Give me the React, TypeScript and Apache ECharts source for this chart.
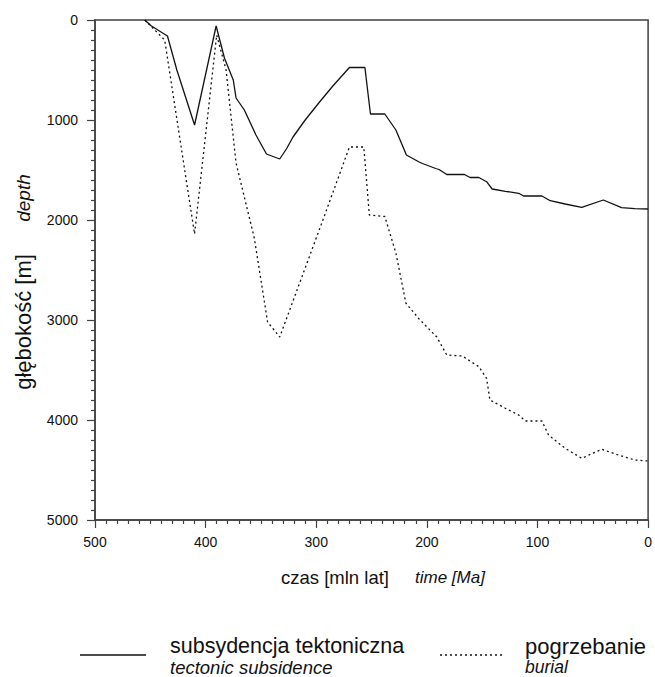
import React, { useEffect, useRef } from "react";
import * as echarts from "echarts";

const tectonicAge = [455, 449, 434.5, 426, 410, 390.5, 383, 375, 372.5, 365, 354.5, 345, 333, 327, 321, 310, 297, 285, 270, 256, 251, 238, 228, 218.5, 207, 204, 192, 189, 182, 166, 161, 153, 146, 141, 129, 117, 112.5, 96, 88.5, 75, 60, 40.5, 24, 12, 0];
const tectonicDepth = [0, 60, 160, 500, 1050, 60, 380, 600, 780, 900, 1150, 1340, 1390, 1290, 1170, 1000, 820, 660, 475, 475, 940, 940, 1100, 1350, 1420, 1435, 1485, 1495, 1545, 1545, 1575, 1575, 1617, 1690, 1713, 1733, 1760, 1760, 1807, 1840, 1873, 1800, 1877, 1887, 1890];

const burialAge = [455, 446, 437, 410, 390, 381.5, 372.5, 356, 344, 333, 315, 294, 270, 257, 252, 238, 228, 219, 207, 191, 182, 168, 153, 146, 143, 129, 117, 111, 96, 90, 75, 60, 42, 27, 12, 0];
const burialDepth = [0, 100, 200, 2140, 150, 500, 1430, 2180, 3020, 3170, 2630, 2000, 1270, 1270, 1950, 1965, 2330, 2830, 2990, 3170, 3350, 3360, 3467, 3583, 3800, 3883, 3950, 4010, 4010, 4150, 4283, 4383, 4293, 4350, 4400, 4410];

const xTicks = [0, 100, 200, 300, 400, 500];
const yTicks = [0, 1000, 2000, 3000, 4000, 5000];

const FONT = "'Liberation Sans', Arial, sans-serif";
const AX = "#404040";

export default function App() {
  const ref = useRef<HTMLDivElement>(null);
  useEffect(() => {
    if (!ref.current) return;
    const chart = echarts.init(ref.current, undefined, { renderer: "svg" });
    const tect = tectonicAge.map((a, i) => [a, tectonicDepth[i]]);
    const bur = burialAge.map((a, i) => [a, burialDepth[i]]);
    chart.setOption({
      animation: false,
      backgroundColor: "#ffffff",
      textStyle: { fontFamily: FONT },
      grid: {
        left: 95,
        right: 5,
        top: 20,
        bottom: 157,
        show: true,
        borderColor: AX,
        borderWidth: 1.5,
        backgroundColor: "transparent",
      },
      xAxis: {
        type: "value",
        inverse: true,
        min: xTicks[0],
        max: xTicks[xTicks.length - 1],
        interval: 100,
        axisLine: { show: true, onZero: false, lineStyle: { color: AX, width: 1.5 } },
        axisTick: { show: true, inside: false, length: 8, lineStyle: { color: AX, width: 1.2 } },
        minorTick: { show: true, splitNumber: 10, length: 4, lineStyle: { color: AX, width: 1.2 } },
        splitLine: { show: false },
        axisLabel: { color: "#111", fontSize: 14, margin: 15, fontFamily: FONT, formatter: (v: number) => String(v) },
      },
      yAxis: {
        type: "value",
        inverse: true,
        min: yTicks[0],
        max: yTicks[yTicks.length - 1],
        interval: 1000,
        axisLine: { show: true, onZero: false, lineStyle: { color: AX, width: 1.5 } },
        axisTick: { show: true, inside: false, length: 8, lineStyle: { color: AX, width: 1.2 } },
        minorTick: { show: true, splitNumber: 10, length: 4, lineStyle: { color: AX, width: 1.2 } },
        splitLine: { show: false },
        axisLabel: { color: "#111", fontSize: 14, margin: 17, fontFamily: FONT, formatter: (v: number) => String(v) },
      },
      series: [
        {
          name: "subsydencja tektoniczna",
          type: "line",
          data: tect,
          showSymbol: false,
          lineStyle: { color: "#111", width: 1.3 },
        },
        {
          name: "pogrzebanie",
          type: "line",
          data: bur,
          showSymbol: false,
          lineStyle: { color: "#111", width: 1.3, type: [2, 3] },
        },
      ],
      graphic: [
        {
          type: "text",
          x: 23,
          y: 322,
          rotation: Math.PI / 2,
          style: { text: "głębokość [m]", fontSize: 22, fontFamily: FONT, fill: "#111", align: "center", verticalAlign: "middle" },
        },
        {
          type: "text",
          x: 23,
          y: 198,
          rotation: Math.PI / 2,
          style: { text: "depth", fontSize: 19, fontStyle: "italic", fontFamily: FONT, fill: "#111", align: "center", verticalAlign: "middle" },
        },
        {
          type: "text",
          x: 281,
          y: 577,
          style: { text: "czas [mln lat]", fontSize: 18.5, fontFamily: FONT, fill: "#111", align: "left", verticalAlign: "middle" },
        },
        {
          type: "text",
          x: 415,
          y: 577,
          style: { text: "time [Ma]", fontSize: 17, fontStyle: "italic", fontFamily: FONT, fill: "#111", align: "left", verticalAlign: "middle" },
        },
        {
          type: "line",
          shape: { x1: 80, y1: 655, x2: 146, y2: 655 },
          style: { stroke: "#111", lineWidth: 1.3 },
        },
        {
          type: "text",
          x: 170,
          y: 646,
          style: { text: "subsydencja tektoniczna", fontSize: 21.5, fontFamily: FONT, fill: "#111", align: "left", verticalAlign: "middle" },
        },
        {
          type: "text",
          x: 170,
          y: 667,
          style: { text: "tectonic subsidence", fontSize: 18.5, fontStyle: "italic", fontFamily: FONT, fill: "#111", align: "left", verticalAlign: "middle" },
        },
        {
          type: "line",
          shape: { x1: 440, y1: 655, x2: 502, y2: 655 },
          style: { stroke: "#111", lineWidth: 1.3, lineDash: [2, 3] },
        },
        {
          type: "text",
          x: 525,
          y: 646,
          style: { text: "pogrzebanie", fontSize: 22, fontFamily: FONT, fill: "#111", align: "left", verticalAlign: "middle" },
        },
        {
          type: "text",
          x: 525,
          y: 667,
          style: { text: "burial", fontSize: 17.5, fontStyle: "italic", fontFamily: FONT, fill: "#111", align: "left", verticalAlign: "middle" },
        },
      ],
    });
    return () => chart.dispose();
  }, []);
  return <div ref={ref} style={{ width: 655, height: 677, position: "absolute", left: 0, top: 0 }} />;
}
